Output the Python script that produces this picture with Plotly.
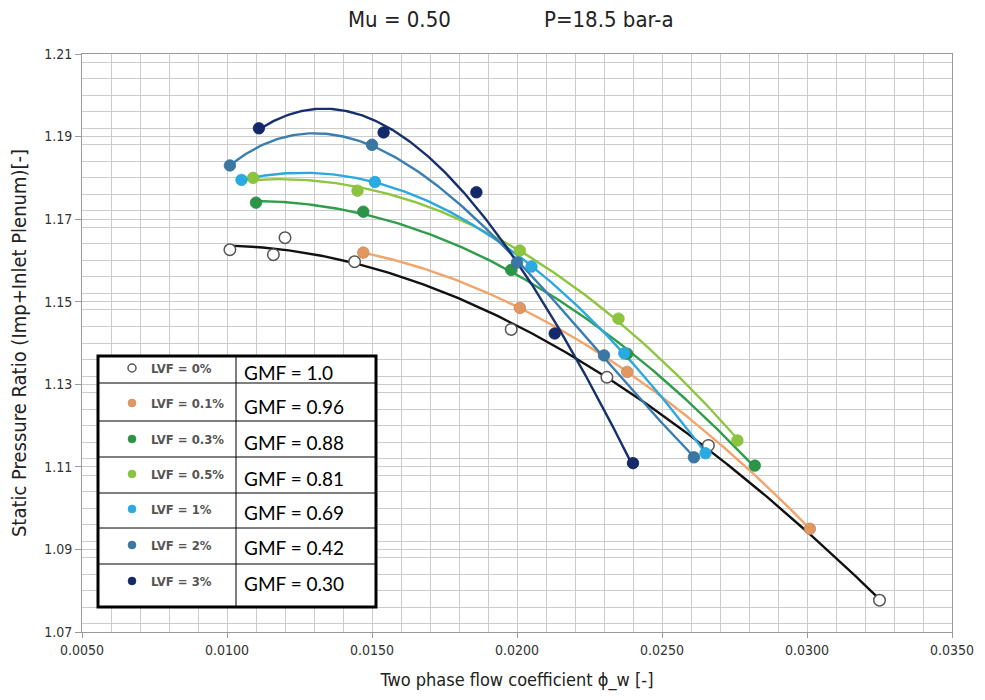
import numpy as np
import plotly.graph_objects as go

# ---- data ----
lvf_labels = ["LVF = 0%", "LVF = 0.1%", "LVF = 0.3%", "LVF = 0.5%", "LVF = 1%", "LVF = 2%", "LVF = 3%"]
gmf_labels = ["GMF = 1.0", "GMF = 0.96", "GMF = 0.88", "GMF = 0.81", "GMF = 0.69", "GMF = 0.42", "GMF = 0.30"]

x_lvf0 = [0.0101, 0.0116, 0.0120, 0.0144, 0.0198, 0.0231, 0.0266, 0.0325]
y_lvf0 = [1.1626, 1.1614, 1.1655, 1.1597, 1.1433, 1.1317, 1.1152, 1.0777]

x_lvf01 = [0.0147, 0.0201, 0.0238, 0.0301]
y_lvf01 = [1.1619, 1.1485, 1.1330, 1.0950]

x_lvf03 = [0.0110, 0.0147, 0.0198, 0.0238, 0.0282]
y_lvf03 = [1.1740, 1.1718, 1.1577, 1.1374, 1.1103]

x_lvf05 = [0.0109, 0.0145, 0.0201, 0.0235, 0.0276]
y_lvf05 = [1.1800, 1.1769, 1.1624, 1.1459, 1.1164]

x_lvf1 = [0.0105, 0.0151, 0.0205, 0.0237, 0.0265]
y_lvf1 = [1.1795, 1.1790, 1.1585, 1.1375, 1.1133]

x_lvf2 = [0.0101, 0.0150, 0.0200, 0.0230, 0.0261]
y_lvf2 = [1.1830, 1.1880, 1.1595, 1.1370, 1.1123]

x_lvf3 = [0.0111, 0.0154, 0.0186, 0.0213, 0.0240]
y_lvf3 = [1.1920, 1.1910, 1.1765, 1.1423, 1.1109]

series = [
    (x_lvf0, y_lvf0, "#111111", "white", "#555555", 3),
    (x_lvf01, y_lvf01, "#F2A46A", "#E3975F", "#B98A6A", 2),
    (x_lvf03, y_lvf03, "#2E9E4A", "#2B9446", "#2B8A44", 2),
    (x_lvf05, y_lvf05, "#8DC640", "#8CC43E", "#86BC3E", 2),
    (x_lvf1, y_lvf1, "#2AA8DF", "#29ABE2", "#27A3D8", 3),
    (x_lvf2, y_lvf2, "#3A7DB0", "#3B77A3", "#356E98", 3),
    (x_lvf3, y_lvf3, "#16306C", "#13296A", "#102460", 3),
]

fig = go.Figure()

# trend lines (polynomial fits through the points)
for xs, ys, lc, mc, oc, deg in series:
    xa = np.array(xs)
    coef = np.polyfit(xa, np.array(ys), deg)
    xf = np.linspace(xa.min(), xa.max(), 200)
    fig.add_trace(go.Scatter(x=xf, y=np.polyval(coef, xf), mode="lines",
                             line=dict(color=lc, width=2.4), showlegend=False,
                             hoverinfo="skip"))
# markers
for xs, ys, lc, mc, oc, deg in series:
    fig.add_trace(go.Scatter(x=xs, y=ys, mode="markers", showlegend=False,
                             marker=dict(size=11.5, color=mc,
                                         line=dict(color=oc, width=1.5 if mc == "white" else 0.8))))

L, R, T, B = 82, 33, 54, 68
W, H = 985, 700
pw, ph = W - L - R, H - T - B

def px(x):
    return (x - L) / pw

def py(y):
    return (H - B - y) / ph

shapes = []
# legend table box
shapes.append(dict(type="rect", xref="paper", yref="paper", x0=px(98), x1=px(376), y0=py(607), y1=py(356),
                   line=dict(color="black", width=3), fillcolor="white", layer="above"))
shapes.append(dict(type="line", xref="paper", yref="paper", x0=px(236), x1=px(236), y0=py(607), y1=py(356),
                   line=dict(color="black", width=1), layer="above"))
for yy in [383, 421, 457, 493, 528, 564]:
    shapes.append(dict(type="line", xref="paper", yref="paper", x0=px(98), x1=px(376), y0=py(yy), y1=py(yy),
                       line=dict(color="black", width=1), layer="above"))

marker_y = [368, 403, 439, 474, 509, 545, 581]
text_y = [372, 407, 442, 478, 512, 547, 583]
annotations = []
for i, (xs, ys, lc, mc, oc, deg) in enumerate(series):
    r = 4
    shapes.append(dict(type="circle", xref="paper", yref="paper",
                       x0=px(132 - r), x1=px(132 + r), y0=py(marker_y[i] + r), y1=py(marker_y[i] - r),
                       fillcolor=mc, line=dict(color=oc, width=1.5 if mc == "white" else 0.5), layer="above"))
    annotations.append(dict(xref="paper", yref="paper", x=px(149), y=py(marker_y[i]), text="<b>" + lvf_labels[i] + "</b>",
                            showarrow=False, xanchor="left", yanchor="middle",
                            font=dict(family="DejaVu Sans Condensed, DejaVu Sans", size=13, color="#555555")))
    annotations.append(dict(xref="paper", yref="paper", x=px(242), y=py(text_y[i]), text=gmf_labels[i],
                            showarrow=False, xanchor="left", yanchor="middle",
                            font=dict(family="Lato", size=19, color="black")))

# title
title_font = dict(family="DejaVu Sans Condensed, sans-serif", size=22, color="#222")
annotations.append(dict(xref="paper", yref="paper", x=px(399), y=py(19), text="Mu = 0.50", showarrow=False,
                        xanchor="center", yanchor="middle", font=title_font))
annotations.append(dict(xref="paper", yref="paper", x=px(609), y=py(19), text="P=18.5 bar-a", showarrow=False,
                        xanchor="center", yanchor="middle", font=title_font))

tickfont = dict(family="DejaVu Sans Condensed, sans-serif", size=14, color="#333")
axis_title_font = dict(family="DejaVu Sans Condensed, sans-serif", size=18, color="#222")
fig.update_layout(
    width=W, height=H, margin=dict(l=L, r=R, t=T, b=B),
    paper_bgcolor="white", plot_bgcolor="white",
    shapes=shapes, annotations=annotations,
    xaxis=dict(range=[0.005, 0.035], dtick=0.005, tickformat=".4f", tick0=0.005,
               showgrid=True, gridcolor="#cccccc", gridwidth=1,
               minor=dict(dtick=0.001, showgrid=True, gridcolor="#cccccc", gridwidth=1),
               showline=True, linecolor="#9a9a9a", linewidth=1, mirror=True,
               ticks="outside", ticklen=5, tickcolor="#9a9a9a", zeroline=False,
               tickfont=tickfont,
               title=dict(text="Two phase flow coefficient ϕ_w [-]", standoff=16, font=axis_title_font)),
    yaxis=dict(range=[1.07, 1.21], dtick=0.02, tick0=1.07, tickformat=".2f",
               showgrid=True, gridcolor="#cccccc", gridwidth=1,
               minor=dict(dtick=0.004, showgrid=True, gridcolor="#cccccc", gridwidth=1),
               showline=True, linecolor="#9a9a9a", linewidth=1, mirror=True,
               ticks="outside", ticklen=6, tickcolor="#9a9a9a", zeroline=False,
               tickfont=tickfont,
               title=dict(text="Static Pressure Ratio (Imp+Inlet Plenum)[-]", standoff=12,
                          font=dict(family="DejaVu Sans Condensed, sans-serif", size=20, color="#222"))),
)

fig.write_html("out.html")
